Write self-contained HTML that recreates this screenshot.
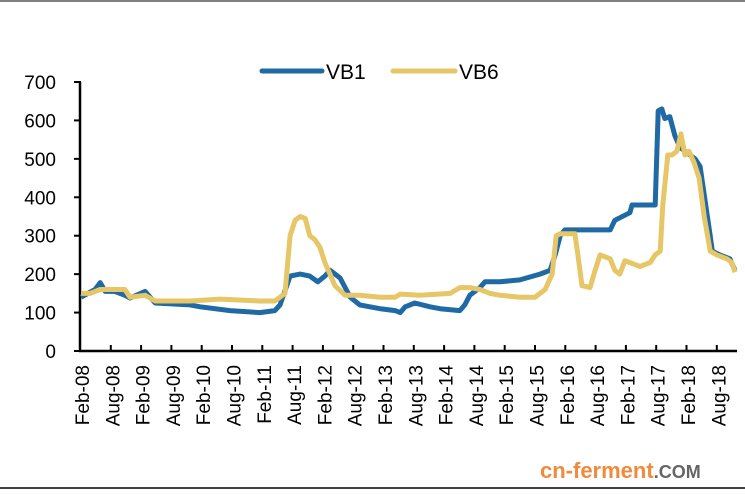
<!DOCTYPE html>
<html><head><meta charset="utf-8"><style>
body{margin:0;background:#fff;}
svg{display:block;font-family:"Liberation Sans",sans-serif;}
</style></head><body>
<svg id="c" width="745" height="495">
<line x1="0" y1="1" x2="745" y2="1" stroke="#000" stroke-width="1"/>
<line x1="0" y1="488" x2="745" y2="488" stroke="#000" stroke-width="1.5"/>
<g>
<line x1="262" y1="71" x2="322" y2="71" stroke="#1f6aa5" stroke-width="5" stroke-linecap="round"/>
<text x="326" y="79" font-size="21">VB1</text>
<line x1="393" y1="71" x2="455" y2="71" stroke="#e6c667" stroke-width="5" stroke-linecap="round"/>
<text x="459" y="79" font-size="21">VB6</text>
</g>
<g id="axes"></g>
<g id="series"></g>
<text x="540" y="478" font-size="22" font-weight="bold" fill="#f08a3c">cn-ferment<tspan fill="#666" font-size="18">.COM</tspan></text>
</svg>
<script>
const yTicks=[0,100,200,300,400,500,600,700];
const xLabels=["Feb-08","Aug-08","Feb-09","Aug-09","Feb-10","Aug-10","Feb-11","Aug-11","Feb-12","Aug-12","Feb-13","Aug-13","Feb-14","Aug-14","Feb-15","Aug-15","Feb-16","Aug-16","Feb-17","Aug-17","Feb-18","Aug-18"];
const vb1Months=[0,2.8,3.8,4.8,6.7,8.7,9.7,12.7,14.7,21.6,23.6,29.5,35.4,38.4,39.4,41.4,43.4,45.3,46.9,48.3,49.3,51.3,53.3,55.2,59.2,62.2,63.2,64.2,66.1,69.1,71.1,75.0,76.0,77.0,79.0,80.0,83.0,86.9,90.9,92.9,93.9,94.9,95.8,104.8,105.7,108.7,109.1,113.7,114.3,115.0,115.6,116.6,117.6,118.6,120.6,121.6,122.6,124.6,125.0,126.5,128.5,129.5];
const vb1Values=[140,160,178,155,155,145,138,155,125,120,115,105,100,105,120,195,200,195,180,195,210,190,140,120,110,105,100,115,125,115,110,105,120,145,165,180,180,185,200,210,250,300,315,315,340,360,380,380,625,630,605,610,560,530,510,500,480,300,260,250,240,210];
const vb6Months=[0,1.8,3.8,8.7,9.7,12.7,14.7,21.6,27.5,35.4,38.4,40.4,41.4,42.4,43.4,44.4,45.3,46.3,47.3,48.3,49.3,50.3,52.3,55.2,59.2,62.2,63.2,67.1,73.1,75.0,77.0,79.0,81.0,83.0,86.9,89.9,91.9,93.3,94.1,94.9,97.8,98.4,99.2,100.8,101.8,102.8,104.8,105.7,106.7,107.7,110.7,112.7,113.7,114.7,115.2,116.2,117.0,118.0,118.8,119.6,120.4,121.4,122.4,123.4,124.6,125.9,127.9,128.9,129.5];
const vb6Values=[150,150,160,160,140,145,130,130,135,130,130,150,300,340,350,345,300,290,270,230,200,170,145,145,140,140,148,145,150,165,165,160,150,145,140,140,160,200,300,305,305,250,170,165,210,250,240,210,200,235,220,230,250,260,380,510,510,520,565,510,520,490,450,350,260,250,240,230,205];
const NS='http://www.w3.org/2000/svg';
const x0=81,pxPerMonth=5.05,y0=351,pxPerUnit=269/700;
const xs=m=>x0+m*pxPerMonth, ys=v=>y0-v*pxPerUnit;
const axes=document.getElementById('axes'), series=document.getElementById('series');
function mk(tag,attrs,parent){const e=document.createElementNS(NS,tag);for(const k in attrs)e.setAttribute(k,attrs[k]);parent.appendChild(e);return e;}
let yAxis=mk('line',{x1:x0-1,y1:ys(700),x2:x0-1,y2:y0+1,stroke:'#000','stroke-width':2.5},axes);


let xAxis=mk('line',{x1:x0-2,y1:y0,x2:737,y2:y0,stroke:'#000','stroke-width':2.5},axes);


yTicks.forEach(v=>{
  let t=mk('line',{x1:x0-7,y1:ys(v),x2:x0,y2:ys(v),stroke:'#000','stroke-width':2},axes);
  
  
  let l=mk('text',{x:56,y:ys(v)+7,'font-size':19,'text-anchor':'end'},axes);
  l.textContent=v;
  
  
});
xLabels.forEach((s,i)=>{
  const m=i*6;
  let t=mk('line',{x1:xs(m+6)-0.5,y1:y0,x2:xs(m+6)-0.5,y2:y0-6,stroke:'#000','stroke-width':2},axes);
  
  
  const cx=xs(m)+8;
  let l=mk('text',{x:cx,y:365,'font-size':19,'text-anchor':'end',transform:`rotate(-90 ${cx} 365)`},axes);
  l.textContent=s;
  
  
});
function path(ms,vs){return ms.map((m,i)=>(i?'L':'M')+xs(m).toFixed(1)+','+ys(vs[i]).toFixed(1)).join('');}
let p1=mk('path',{d:path(vb1Months,vb1Values),fill:'none',stroke:'#1f6aa5','stroke-width':5,'stroke-linejoin':'round'},series);


let p6=mk('path',{d:path(vb6Months,vb6Values),fill:'none',stroke:'#e6c667','stroke-width':5,'stroke-linejoin':'round'},series);


</script>
</body></html>
